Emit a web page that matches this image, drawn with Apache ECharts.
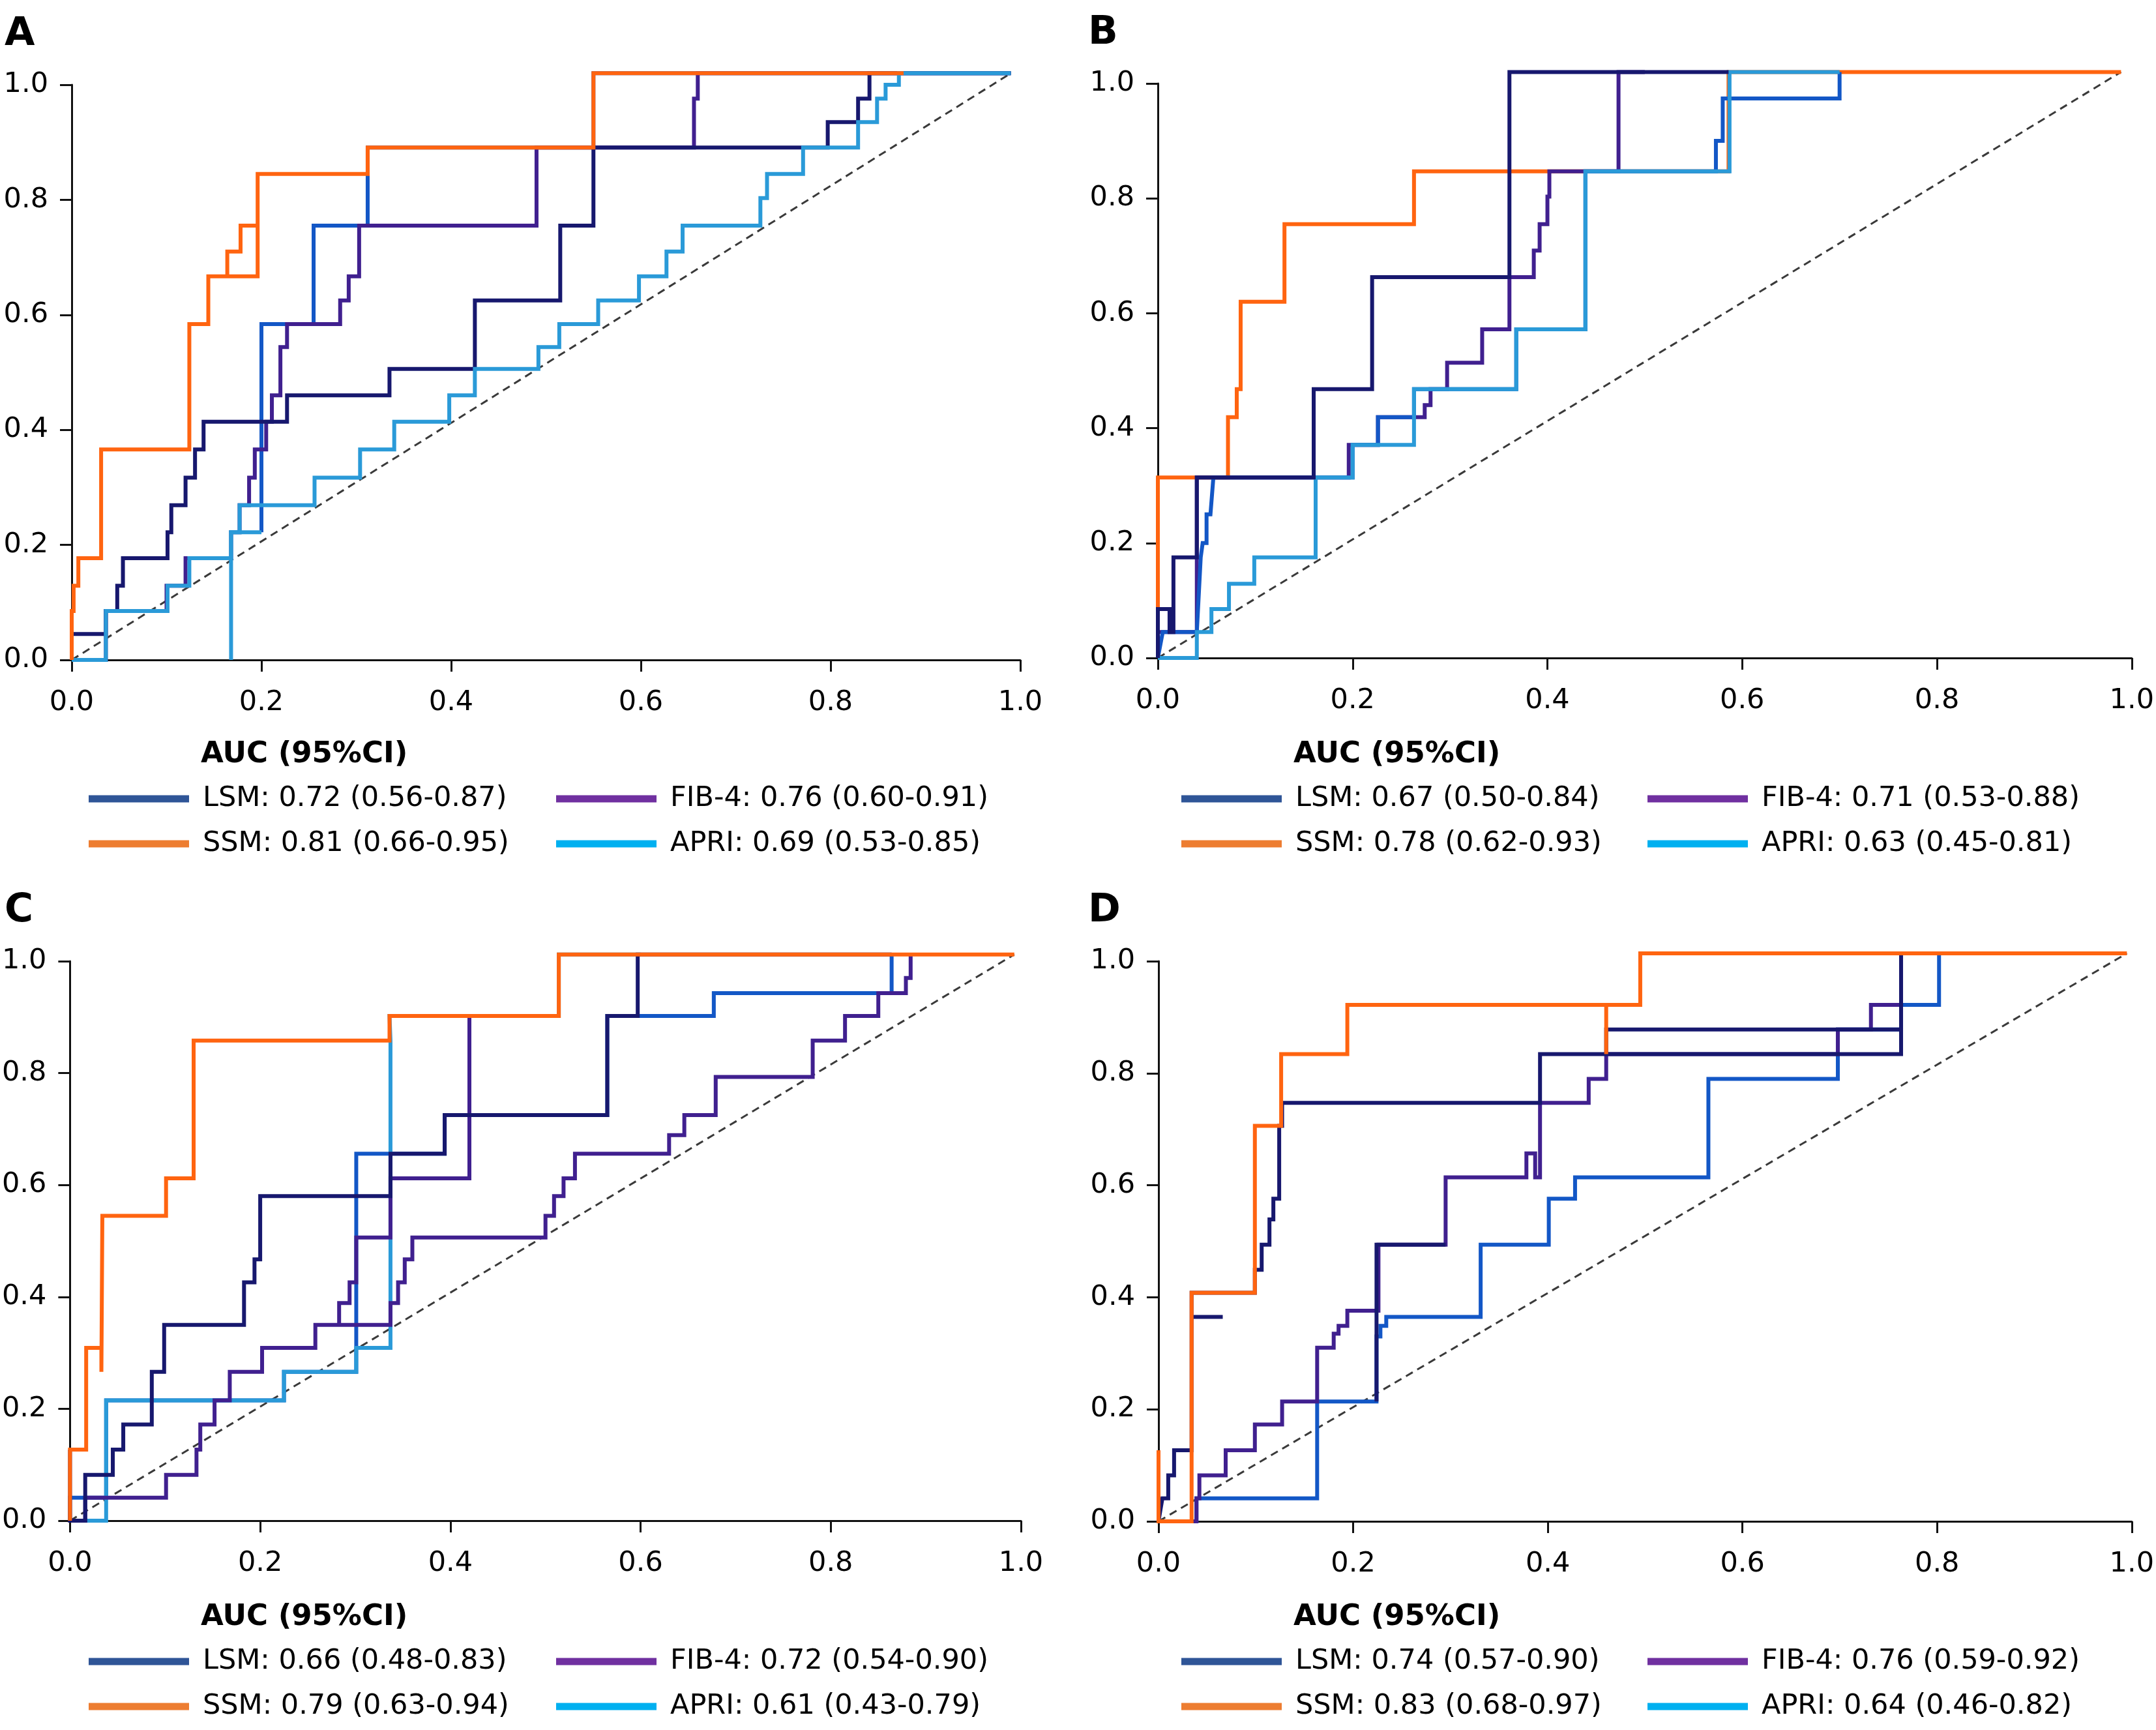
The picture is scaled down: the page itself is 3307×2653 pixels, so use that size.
<!DOCTYPE html>
<html lang="en">
<head>
<meta charset="utf-8">
<title>ROC curves A-D</title>
<script src="https://cdn.jsdelivr.net/npm/echarts@6.0.0/dist/echarts.min.js"></script>
<style>
  html, body { margin: 0; padding: 0; background: #fff; }
  #main { width: 3307px; height: 2653px; }
</style>
</head>
<body>
<div id="main"></div>
<script>
// ---- data: [1 - specificity, sensitivity] ----
var panels = ['A', 'B', 'C', 'D'];
var keys = ['LSM', 'SSM', 'FIB-4', 'APRI'];

var aucA = ['0.72 (0.56-0.87)', '0.81 (0.66-0.95)', '0.76 (0.60-0.91)', '0.69 (0.53-0.85)'];
var aucB = ['0.67 (0.50-0.84)', '0.78 (0.62-0.93)', '0.71 (0.53-0.88)', '0.63 (0.45-0.81)'];
var aucC = ['0.66 (0.48-0.83)', '0.79 (0.63-0.94)', '0.72 (0.54-0.90)', '0.61 (0.43-0.79)'];
var aucD = ['0.74 (0.57-0.90)', '0.83 (0.68-0.97)', '0.76 (0.59-0.92)', '0.64 (0.46-0.82)'];

var ticks = [0, 0.2, 0.4, 0.6, 0.8, 1.0];

// reference diagonals (end where the curves end)
var diagA = [[0, 0], [0.99, 1.02]];
var diagB = [[0, 0], [0.989, 1.02]];
var diagC = [[0, 0], [0.993, 1.012]];
var diagD = [[0, 0], [0.995, 1.014]];

// panel A
var A_SSM = [[0,0],[0,0.085],[0.002,0.085],[0.002,0.129],[0.007,0.129],[0.007,0.177],[0.031,0.177],[0.031,0.366],[0.124,0.366],[0.124,0.584],[0.144,0.584],[0.144,0.667],[0.196,0.667],[0.196,0.755],[0.178,0.755],[0.178,0.71],[0.164,0.71],[0.164,0.667],[0.164,0.71],[0.178,0.71],[0.178,0.755],[0.196,0.755],[0.196,0.845],[0.312,0.845],[0.312,0.891],[0.55,0.891],[0.55,1.02],[0.877,1.02]];
var A_LSM = [[0,0],[0,0.045],[0.036,0.045],[0.036,0.085],[0.048,0.085],[0.048,0.129],[0.054,0.129],[0.054,0.177],[0.101,0.177],[0.101,0.222],[0.105,0.222],[0.105,0.269],[0.12,0.269],[0.12,0.317],[0.13,0.317],[0.13,0.366],[0.139,0.366],[0.139,0.414],[0.227,0.414],[0.227,0.46],[0.335,0.46],[0.335,0.506],[0.425,0.506],[0.425,0.625],[0.515,0.625],[0.515,0.755],[0.55,0.755],[0.55,0.891],[0.797,0.891],[0.797,0.935],[0.829,0.935],[0.829,0.976],[0.841,0.976],[0.841,1.02],[0.99,1.02]];
var A_LSM2 = [[0.2,0.222],[0.2,0.584],[0.255,0.584],[0.255,0.755],[0.312,0.755],[0.312,0.891],[0.55,0.891],[0.55,1.02],[0.99,1.02]];
var A_FIB4 = [[0,0],[0.036,0],[0.036,0.085],[0.1,0.085],[0.1,0.129],[0.12,0.129],[0.12,0.177],[0.168,0.177],[0.168,0.222],[0.177,0.222],[0.177,0.269],[0.187,0.269],[0.187,0.317],[0.193,0.317],[0.193,0.366],[0.205,0.366],[0.205,0.414],[0.211,0.414],[0.211,0.46],[0.22,0.46],[0.22,0.544],[0.227,0.544],[0.227,0.584],[0.283,0.584],[0.283,0.625],[0.292,0.625],[0.292,0.667],[0.303,0.667],[0.303,0.755],[0.49,0.755],[0.49,0.891],[0.656,0.891],[0.656,0.976],[0.66,0.976],[0.66,1.02],[0.99,1.02]];
var A_APRI = [[0,0],[0.036,0],[0.036,0.085],[0.101,0.085],[0.101,0.129],[0.124,0.129],[0.124,0.177],[0.168,0.177],[0.168,0.222],[0.177,0.222],[0.177,0.269],[0.256,0.269],[0.256,0.317],[0.304,0.317],[0.304,0.366],[0.34,0.366],[0.34,0.414],[0.398,0.414],[0.398,0.46],[0.425,0.46],[0.425,0.506],[0.492,0.506],[0.492,0.544],[0.514,0.544],[0.514,0.584],[0.555,0.584],[0.555,0.625],[0.598,0.625],[0.598,0.667],[0.627,0.667],[0.627,0.71],[0.644,0.71],[0.644,0.755],[0.726,0.755],[0.726,0.803],[0.733,0.803],[0.733,0.845],[0.771,0.845],[0.771,0.891],[0.829,0.891],[0.829,0.935],[0.849,0.935],[0.849,0.976],[0.858,0.976],[0.858,1.0],[0.872,1.0],[0.872,1.02],[0.99,1.02]];
var A_APRI2 = [[0.168,0],[0.168,0.222],[0.2,0.222]];

// panel B
var B_SSM = [[0,0],[0,0.314],[0.072,0.314],[0.072,0.419],[0.081,0.419],[0.081,0.468],[0.085,0.468],[0.085,0.62],[0.13,0.62],[0.13,0.755],[0.263,0.755],[0.263,0.847],[0.586,0.847],[0.586,1.02],[0.989,1.02]];
var B_LSM = [[0,0],[0,0.085],[0.012,0.085],[0.012,0.045],[0.016,0.045],[0.016,0.175],[0.04,0.175],[0.04,0.314],[0.16,0.314],[0.16,0.468],[0.22,0.468],[0.22,0.663],[0.361,0.663],[0.361,1.02],[0.586,1.02]];
var B_LSM2 = [[0,0],[0.005,0.045],[0.04,0.045],[0.044,0.175],[0.046,0.2],[0.05,0.2],[0.05,0.25],[0.054,0.25],[0.057,0.314],[0.2,0.314],[0.2,0.371],[0.226,0.371],[0.226,0.419],[0.263,0.419],[0.263,0.468],[0.368,0.468],[0.368,0.572],[0.439,0.572],[0.439,0.847],[0.573,0.847],[0.573,0.9],[0.58,0.9],[0.58,0.974],[0.7,0.974],[0.7,1.02]];
var B_FIB4 = [[0,0],[0,0.045],[0.04,0.045],[0.04,0.314],[0.196,0.314],[0.196,0.371],[0.226,0.371],[0.226,0.419],[0.274,0.419],[0.274,0.44],[0.28,0.44],[0.28,0.468],[0.297,0.468],[0.297,0.514],[0.333,0.514],[0.333,0.572],[0.361,0.572],[0.361,0.663],[0.386,0.663],[0.386,0.709],[0.392,0.709],[0.392,0.755],[0.4,0.755],[0.4,0.803],[0.402,0.803],[0.402,0.847],[0.473,0.847],[0.473,1.02],[0.5,1.02]];
var B_APRI = [[0,0],[0.04,0],[0.04,0.045],[0.055,0.045],[0.055,0.085],[0.073,0.085],[0.073,0.129],[0.099,0.129],[0.099,0.175],[0.162,0.175],[0.162,0.314],[0.2,0.314],[0.2,0.371],[0.263,0.371],[0.263,0.468],[0.368,0.468],[0.368,0.572],[0.439,0.572],[0.439,0.847],[0.587,0.847],[0.587,1.02],[0.7,1.02]];

// panel C
var C_SSM = [[0,0],[0,0.127],[0.017,0.127],[0.017,0.309],[0.033,0.309],[0.033,0.266],[0.034,0.266],[0.034,0.545],[0.101,0.545],[0.101,0.612],[0.13,0.612],[0.13,0.858],[0.336,0.858],[0.336,0.902],[0.514,0.902],[0.514,1.012],[0.993,1.012]];
var C_LSM = [[0,0],[0,0.127],[0,0],[0.016,0],[0.016,0.082],[0.045,0.082],[0.045,0.127],[0.056,0.127],[0.056,0.172],[0.086,0.172],[0.086,0.266],[0.099,0.266],[0.099,0.35],[0.183,0.35],[0.183,0.426],[0.194,0.426],[0.194,0.467],[0.2,0.467],[0.2,0.58],[0.337,0.58],[0.337,0.656],[0.394,0.656],[0.394,0.725],[0.565,0.725],[0.565,0.902],[0.597,0.902],[0.597,1.012],[0.864,1.012]];
var C_LSM2 = [[0,0],[0,0.041],[0.038,0.041],[0.038,0.215],[0.225,0.215],[0.225,0.266],[0.301,0.266],[0.301,0.656],[0.394,0.656],[0.394,0.725],[0.565,0.725],[0.565,0.902],[0.677,0.902],[0.677,0.943],[0.864,0.943],[0.864,1.012]];
var C_FIB4 = [[0,0],[0.016,0],[0.016,0.041],[0.101,0.041],[0.101,0.082],[0.133,0.082],[0.133,0.127],[0.137,0.127],[0.137,0.172],[0.152,0.172],[0.152,0.215],[0.168,0.215],[0.168,0.266],[0.202,0.266],[0.202,0.309],[0.258,0.309],[0.258,0.35],[0.337,0.35],[0.337,0.389],[0.345,0.389],[0.345,0.426],[0.352,0.426],[0.352,0.467],[0.36,0.467],[0.36,0.506],[0.5,0.506],[0.5,0.545],[0.509,0.545],[0.509,0.58],[0.519,0.58],[0.519,0.612],[0.531,0.612],[0.531,0.656],[0.63,0.656],[0.63,0.689],[0.646,0.689],[0.646,0.725],[0.679,0.725],[0.679,0.793],[0.781,0.793],[0.781,0.858],[0.815,0.858],[0.815,0.902],[0.85,0.902],[0.85,0.943],[0.879,0.943],[0.879,0.97],[0.884,0.97],[0.884,1.012]];
var C_FIB42 = [[0.283,0.35],[0.283,0.389],[0.294,0.389],[0.294,0.426],[0.301,0.426],[0.301,0.506],[0.337,0.506],[0.337,0.612],[0.42,0.612],[0.42,0.902]];
var C_APRI = [[0,0],[0.038,0],[0.038,0.215],[0.225,0.215],[0.225,0.266],[0.301,0.266],[0.301,0.309],[0.337,0.309],[0.337,0.858],[0.336,0.902],[0.514,0.902],[0.514,1.012],[0.6,1.012]];

// panel D
var D_SSM = [[0,0.127],[0,0],[0.034,0],[0.034,0.408],[0.099,0.408],[0.099,0.706],[0.126,0.706],[0.126,0.834],[0.194,0.834],[0.194,0.922],[0.46,0.922],[0.46,0.834],[0.46,0.922],[0.495,0.922],[0.495,1.014],[0.995,1.014]];
var D_LSM = [[0,0],[0.004,0.041],[0.01,0.041],[0.01,0.082],[0.016,0.082],[0.016,0.127],[0.034,0.127],[0.034,0.365],[0.066,0.365],[0.034,0.365],[0.034,0.408],[0.099,0.408],[0.099,0.449],[0.106,0.449],[0.106,0.494],[0.114,0.494],[0.114,0.539],[0.118,0.539],[0.118,0.576],[0.124,0.576],[0.124,0.706],[0.127,0.706],[0.127,0.747],[0.392,0.747],[0.392,0.834],[0.763,0.834],[0.763,1.014],[0.8,1.014]];
var D_LSM2 = [[0.224,0.214],[0.224,0.494],[0.295,0.494]];
var D_LSM3 = [[0.46,0.834],[0.46,0.878],[0.763,0.878]];
var D_FIB4 = [[0,0],[0.039,0],[0.039,0.041],[0.042,0.041],[0.042,0.082],[0.069,0.082],[0.069,0.127],[0.099,0.127],[0.099,0.173],[0.127,0.173],[0.127,0.214],[0.163,0.214],[0.163,0.31],[0.18,0.31],[0.18,0.335],[0.185,0.335],[0.185,0.349],[0.194,0.349],[0.194,0.376],[0.226,0.376],[0.226,0.494],[0.295,0.494],[0.295,0.614],[0.378,0.614],[0.378,0.657],[0.387,0.657],[0.387,0.614],[0.392,0.614],[0.392,0.747],[0.442,0.747],[0.442,0.79],[0.46,0.79],[0.46,0.834],[0.698,0.834],[0.698,0.878],[0.732,0.878],[0.732,0.922],[0.763,0.922],[0.763,1.014],[0.8,1.014]];
var D_APRI = [[0,0],[0.039,0],[0.039,0.041],[0.163,0.041],[0.163,0.214],[0.224,0.214],[0.224,0.33],[0.228,0.33],[0.228,0.349],[0.234,0.349],[0.234,0.365],[0.331,0.365],[0.331,0.494],[0.401,0.494],[0.401,0.576],[0.428,0.576],[0.428,0.614],[0.565,0.614],[0.565,0.79],[0.698,0.79],[0.698,0.878],[0.763,0.878],[0.763,0.922],[0.802,0.922],[0.802,1.014],[0.9,1.014]];

// ---- styling ----
var FONT = 'DejaVu Sans';
var legendColor = { 'LSM': '#2f5597', 'SSM': '#ed7d31', 'FIB-4': '#7030a0', 'APRI': '#00b0f0' };
var lineColor = { navy: '#17186e', mid: '#1357c6', purple: '#40208f', light: '#2a9ad8', orange: '#ff6410' };

var grids = [
  { left: 110, top: 130, width: 1455, height: 882 },
  { left: 1776, top: 128, width: 1496, height: 881 },
  { left: 107, top: 1474, width: 1459, height: 858 },
  { left: 1777, top: 1474, width: 1495, height: 859 }
];
// legend anchor per panel: x of first icon, x of second column icon, y of title
var legendPos = [
  { x1: 131, x2: 848, y: 1130 },
  { x1: 1807, x2: 2522, y: 1130 },
  { x1: 131, x2: 848, y: 2453 },
  { x1: 1807, x2: 2522, y: 2453 }
];

var aucs = [aucA, aucB, aucC, aucD];
var labelOf = {};
panels.forEach(function (p, i) {
  keys.forEach(function (k, j) { labelOf[k + ' ' + p] = k + ': ' + aucs[i][j]; });
});

function curve(p, i, key, data, color, z) {
  return {
    type: 'line', name: key + ' ' + p, xAxisIndex: i, yAxisIndex: i,
    data: data, symbol: 'none', showSymbol: false, clip: false, z: z,
    lineStyle: { color: color, width: 6, join: 'miter', cap: 'butt' },
    itemStyle: { color: color }, emphasis: { disabled: true }, silent: true
  };
}

var diags = [diagA, diagB, diagC, diagD];
var curves = [
  [[A_LSM2, 'LSM', 'mid'], [A_FIB4, 'FIB-4', 'purple'], [A_LSM, 'LSM', 'navy'], [A_APRI, 'APRI', 'light'], [A_APRI2, 'APRI', 'light'], [A_SSM, 'SSM', 'orange']],
  [[B_SSM, 'SSM', 'orange'], [B_FIB4, 'FIB-4', 'purple'], [B_LSM2, 'LSM', 'mid'], [B_APRI, 'APRI', 'light'], [B_LSM, 'LSM', 'navy']],
  [[C_LSM2, 'LSM', 'mid'], [C_APRI, 'APRI', 'light'], [C_FIB4, 'FIB-4', 'purple'], [C_FIB42, 'FIB-4', 'purple'], [C_LSM, 'LSM', 'navy'], [C_SSM, 'SSM', 'orange']],
  [[D_APRI, 'APRI', 'mid'], [D_FIB4, 'FIB-4', 'purple'], [D_LSM2, 'LSM', 'navy'], [D_LSM3, 'LSM', 'navy'], [D_LSM, 'LSM', 'navy'], [D_SSM, 'SSM', 'orange']]
];

var series = [], xAxes = [], yAxes = [], legends = [], titles = [];
var axisCommon = {
  type: 'value', min: 0, max: 1, interval: 0.2,
  splitLine: { show: false },
  axisLine: { show: true, onZero: false, lineStyle: { color: '#111', width: 3 } },
  axisTick: { show: true, length: 18, lineStyle: { color: '#111', width: 3 } },
  axisLabel: { fontFamily: FONT, fontSize: 43, color: '#000', formatter: function (v) { return v.toFixed(1); } }
};

panels.forEach(function (p, i) {
  xAxes.push(Object.assign({}, axisCommon, { gridIndex: i, axisLabel: Object.assign({}, axisCommon.axisLabel, { margin: 44 }) }));
  yAxes.push(Object.assign({}, axisCommon, { gridIndex: i, axisLabel: Object.assign({}, axisCommon.axisLabel, { margin: 36 }) }));

  series.push({
    type: 'line', name: 'ref ' + p, xAxisIndex: i, yAxisIndex: i, data: diags[i],
    symbol: 'none', clip: false, z: 1, silent: true,
    lineStyle: { color: '#3a3a3a', width: 3, type: [12, 8] }
  });
  curves[i].forEach(function (c, j) {
    series.push(curve(p, i, c[1], c[0], lineColor[c[2]], 2 + j));
  });

  var g = grids[i], L = legendPos[i];
  titles.push({ text: p, left: g.left < 200 ? 2 : 1664, top: g.top - 112,
    textStyle: { fontFamily: FONT, fontSize: 60, fontWeight: 'bold', color: '#000' } });
  titles.push({ text: 'AUC (95%CI)', left: L.x1 + 172, top: L.y,
    textStyle: { fontFamily: FONT, fontSize: 45, fontWeight: 'bold', color: '#000' } });

  [[keys[0], keys[1], L.x1], [keys[2], keys[3], L.x2]].forEach(function (col) {
    legends.push({
      orient: 'vertical', left: col[2], top: L.y + 65, icon: 'rect',
      itemWidth: 154, itemHeight: 11, itemGap: 19, selectedMode: false,
      data: [col[0], col[1]].map(function (k) {
        return { name: k + ' ' + p, itemStyle: { color: legendColor[k], borderWidth: 0 } };
      }),
      formatter: function (name) { return labelOf[name]; },
      textStyle: { fontFamily: FONT, fontSize: 43, color: '#000', lineHeight: 50, padding: [0, 0, 0, 16] }
    });
  });
});

var chart = echarts.init(document.getElementById('main'), null, { renderer: 'canvas' });
chart.setOption({
  backgroundColor: '#fff',
  animation: false,
  title: titles,
  legend: legends,
  grid: grids,
  xAxis: xAxes,
  yAxis: yAxes,
  series: series
});
</script>
</body>
</html>
